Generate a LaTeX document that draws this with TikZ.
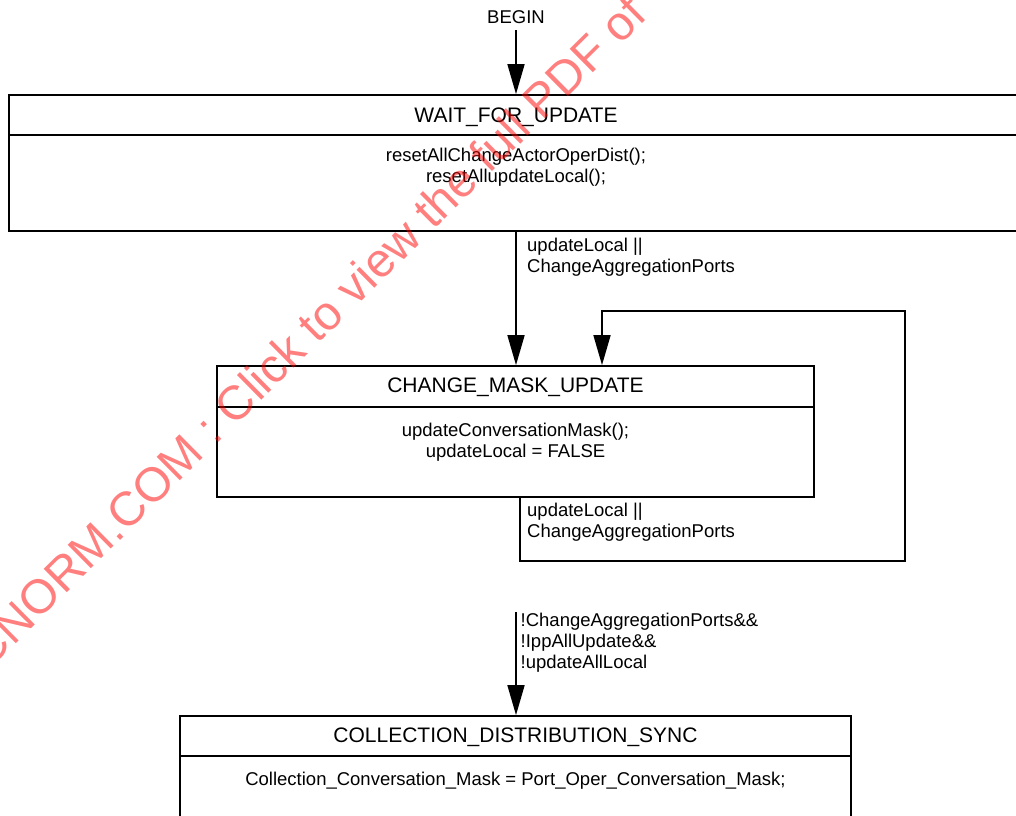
\documentclass[tikz,border=0pt]{standalone}
\usepackage{fontspec}
\setmainfont{Liberation Sans}
\usetikzlibrary{arrows.meta}

\begin{document}
\begin{tikzpicture}[x=1pt, y=-1pt,
  box/.style={draw, line width=1.8pt, inner sep=0pt},
  rule/.style={line width=1.8pt},
  ttl/.style={font=\fontsize{21}{25}\selectfont, anchor=base, inner sep=0pt},
  txt/.style={font=\fontsize{18.5}{21}\selectfont, inner sep=0pt},
  flow/.style={line width=1.7pt, -{Triangle[length=30pt,width=17pt]}},
  wm/.style={font=\fontsize{47.9}{52}\selectfont, text=red, text opacity=0.5, inner sep=0pt},
]
\useasboundingbox (0,0) rectangle (1016,815);

% --- states -------------------------------------------------------------
\node[box, minimum width=1014pt, minimum height=136pt] (wait) at (516,163) {};
\coordinate (waitdiv) at (0,135);
\draw[rule] (wait.west |- waitdiv) -- (wait.east |- waitdiv);
\node[ttl] (waitT) at (516,122.5) {WAIT\_FOR\_UPDATE};
\node[txt, anchor=north, align=center] (waitB) at (516,148)
  {resetAllChangeActorOperDist();\\ resetAllupdateLocal();};

\node[box, minimum width=597pt, minimum height=131pt] (chg) at (515.5,431.5) {};
\coordinate (chgdiv) at (0,407);
\draw[rule] (chg.west |- chgdiv) -- (chg.east |- chgdiv);
\node[ttl] (chgT) at (515.5,392.5) {CHANGE\_MASK\_UPDATE};
\node[txt, anchor=north, align=center] (chgB) at (515.5,423)
  {updateConversationMask();\\ updateLocal = FALSE};

\node[box, minimum width=671pt, minimum height=135pt] (col) at (515.5,783.5) {};
\coordinate (coldiv) at (0,756);
\draw[rule] (col.west |- coldiv) -- (col.east |- coldiv);
\node[ttl] (colT) at (515.5,742.5) {COLLECTION\_DISTRIBUTION\_SYNC};
\node[txt, anchor=base] (colB) at (515.5,785.5)
  {Collection\_Conversation\_Mask = Port\_Oper\_Conversation\_Mask;};

% --- transitions --------------------------------------------------------
\node[txt, anchor=base] (begin) at (516,23.7) {BEGIN};
\coordinate (beginOut) at (516,30);
\draw[flow] (beginOut) -- (beginOut |- wait.north);

\draw[flow] (wait.south) -- (wait.south |- chg.north);
\node[txt, anchor=north west, align=left] (lab1) at (527,238)
  {updateLocal ||\\ ChangeAggregationPorts};

\coordinate (loopA) at (520,561);
\coordinate (loopB) at (905,561);
\coordinate (loopC) at (905,311);
\coordinate (loopD) at (602,311);
\draw[flow] (chg.south -| loopA) -- (loopA) -- (loopB) -- (loopC) -- (loopD)
  -- (chg.north -| loopD);
\node[txt, anchor=north west, align=left] (lab2) at (527,503)
  {updateLocal ||\\ ChangeAggregationPorts};

\coordinate (syncIn) at (516,612);
\draw[flow] (syncIn) -- (syncIn |- col.north);
\node[txt, anchor=north west, align=left] (lab3) at (520.5,613)
  {!ChangeAggregationPorts\&\&\\ !IppAllUpdate\&\&\\ !updateAllLocal};

% --- stamp across the sheet ---------------------------------------------
\node[wm, rotate=44.7, anchor=base west] (stamp) at (-43.7,702.3)
  {IECNORM.COM : Click to view the full PDF of};
\end{tikzpicture}
\end{document}
